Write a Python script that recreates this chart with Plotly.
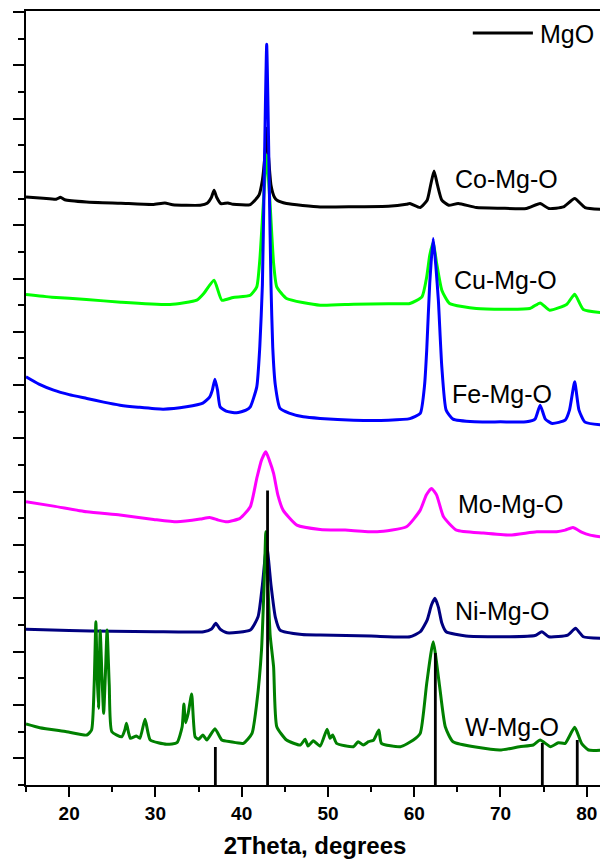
import plotly.graph_objects as go

# ---------------- data (2Theta in degrees, intensity in a.u. incl. stacking offset) -------------
co_x = [15.0, 17.0, 18.5, 19.0, 19.5, 22.0, 26.0, 29.7, 31.1, 32.0, 35.2, 36.0, 36.5, 36.8, 37.1, 37.6,
        38.4, 39.0, 41.0, 42.0, 42.4, 42.7, 42.9, 43.1, 43.4, 43.8, 44.1, 45.2, 49.1, 53.0, 57.0, 59.1,
        59.5, 60.7, 61.5, 61.9, 62.3, 62.7, 63.2, 64.0, 65.1, 67.2, 70.0, 73.0, 74.6, 75.6, 77.3, 78.6,
        79.8, 82.0]
co_y = [588.3, 587.0, 586.0, 588.0, 585.5, 583.3, 582.0, 580.7, 582.3, 580.5, 580.0, 582.0, 588.0, 595.0,
        588.0, 581.5, 582.3, 581.0, 580.7, 590.0, 605.0, 630.0, 657.0, 630.0, 600.0, 588.0, 585.0, 581.7,
        578.3, 578.5, 579.0, 581.0, 581.7, 577.7, 585.0, 600.0, 614.3, 600.0, 585.0, 580.0, 581.7, 577.7,
        577.0, 576.7, 581.7, 576.7, 578.3, 586.7, 577.7, 575.7]

cu_x = [15.0, 18.0, 22.0, 26.0, 31.7, 34.8, 35.6, 36.8, 37.7, 39.0, 41.0, 41.75, 42.1, 42.5, 42.9, 43.3,
        43.7, 44.07, 45.2, 49.1, 53.0, 57.0, 59.5, 60.9, 61.45, 61.8, 62.2, 62.6, 63.2, 64.1, 67.2, 73.4,
        74.6, 75.7, 77.7, 78.6, 79.6, 82.0]
cu_y = [490.7, 488.0, 485.7, 483.0, 480.7, 485.0, 491.7, 505.0, 485.0, 487.7, 490.0, 498.3, 525.0, 580.0,
        630.0, 580.0, 522.0, 498.3, 486.7, 480.0, 481.0, 481.5, 481.7, 488.3, 508.3, 530.0, 543.0, 522.0,
        495.0, 481.7, 476.7, 476.7, 482.3, 475.0, 481.0, 491.0, 475.7, 472.3]

fe_x = [15.0, 16.5, 18.2, 20.0, 22.05, 24.0, 25.9, 28.0, 30.9, 33.6, 35.5, 36.3, 36.6, 36.9, 37.2, 37.5,
        38.2, 39.4, 40.5, 41.0, 41.75, 42.1, 42.4, 42.6, 42.75, 42.9, 43.05, 43.2, 43.4, 43.6, 43.9,
        44.45, 45.5, 47.15, 49.1, 53.0, 57.0, 59.5, 60.7, 61.2, 61.45, 61.8, 62.2, 62.5, 62.8, 63.2,
        63.7, 64.5, 67.0, 70.0, 73.0, 74.0, 74.6, 75.2, 76.0, 77.5, 78.0, 78.6, 79.1, 79.8, 82.0]
fe_y = [408.3, 401.0, 395.0, 390.5, 386.7, 383.0, 380.0, 378.0, 376.0, 378.3, 382.0, 388.3, 395.0, 406.0,
        395.0, 378.3, 374.0, 372.3, 375.0, 378.3, 398.3, 438.3, 500.0, 600.0, 680.0, 741.0, 680.0, 600.0,
        500.0, 438.0, 400.0, 376.7, 372.0, 368.3, 366.7, 365.0, 365.0, 366.5, 371.7, 400.0, 435.0, 502.0,
        546.7, 520.0, 485.0, 418.3, 375.0, 366.0, 363.3, 363.3, 363.3, 366.0, 380.0, 366.0, 361.7, 365.0,
        375.0, 403.3, 375.0, 363.0, 360.0]

mo_x = [15.0, 18.2, 22.05, 25.9, 29.8, 32.5, 35.2, 36.3, 37.3, 38.3, 39.8, 41.0, 41.75, 42.3, 42.8, 43.2,
        43.7, 44.2, 44.8, 46.4, 49.1, 52.0, 55.7, 59.1, 60.7, 61.4, 62.0, 62.6, 63.4, 64.9, 68.0, 71.1,
        74.2, 76.5, 77.5, 78.4, 79.4, 80.4, 82.0]
mo_y = [283.3, 279.0, 273.3, 270.0, 265.7, 263.3, 266.0, 267.7, 265.0, 263.3, 266.7, 278.3, 306.7, 325.0,
        333.3, 325.0, 311.7, 290.0, 275.0, 260.0, 255.7, 255.0, 253.3, 258.3, 275.0, 290.0, 296.7, 290.0,
        268.3, 255.0, 252.0, 250.0, 253.3, 253.3, 255.0, 257.7, 253.0, 250.0, 247.7]

ni_x = [15.0, 20.0, 25.0, 30.0, 35.6, 36.5, 37.0, 37.5, 38.3, 41.0, 41.9, 42.4, 42.9, 43.4, 43.9, 44.45,
        47.0, 49.1, 55.0, 59.5, 60.7, 61.5, 62.0, 62.4, 62.8, 63.2, 63.7, 66.0, 71.1, 74.0, 74.8, 75.6,
        77.8, 78.7, 79.6, 82.0]
ni_y = [155.7, 154.5, 153.8, 153.3, 153.3, 156.0, 161.7, 156.0, 152.3, 155.0, 168.3, 200.0, 240.0, 200.0,
        168.0, 155.0, 150.5, 150.0, 149.0, 148.3, 153.3, 165.0, 180.0, 186.7, 178.0, 162.0, 153.3, 149.0,
        148.3, 149.5, 153.3, 148.3, 150.0, 156.7, 148.3, 146.7]

w_x = [15.0, 16.6, 19.7, 22.05, 22.6, 22.9, 23.1, 23.25, 23.4, 23.6, 23.8, 24.0, 24.2, 24.4, 24.65, 24.95,
       26.1, 26.45, 26.65, 26.9, 27.1, 27.8, 28.2, 28.8, 29.4, 31.3, 32.5, 33.1, 33.3, 33.5, 33.8, 34.2,
       34.6, 35.0, 35.5, 35.96, 36.9, 37.7, 38.7, 40.2, 41.2, 41.75, 42.3, 42.6, 42.8, 43.0, 43.3, 43.7,
       44.07, 45.2, 46.8, 47.35, 47.7, 48.3, 49.1, 49.9, 50.25, 50.55, 51.0, 52.95, 53.5, 54.1, 54.7,
       55.3, 55.9, 56.2, 58.4, 59.9, 60.7, 61.45, 62.2, 62.9, 63.6, 64.5, 69.9, 72.2, 73.8, 74.6, 75.8,
       76.7, 77.5, 78.6, 79.4, 80.2, 82.0]
w_y = [61.0, 57.3, 53.3, 50.0, 55.0, 100.0, 163.3, 110.0, 76.7, 154.3, 110.0, 71.7, 110.0, 155.0, 100.0,
       53.3, 48.3, 55.0, 61.7, 52.0, 46.7, 49.0, 46.7, 65.7, 45.0, 40.7, 42.3, 58.3, 81.0, 62.3, 71.7,
       91.0, 48.3, 45.7, 50.0, 45.0, 56.3, 45.0, 43.3, 41.7, 51.7, 82.0, 135.0, 200.0, 253.3, 210.0,
       150.0, 118.3, 58.3, 45.0, 40.0, 45.7, 39.0, 44.3, 39.0, 55.7, 46.7, 50.0, 41.7, 38.3, 43.3, 40.0,
       43.3, 45.0, 55.0, 41.7, 38.3, 45.0, 51.7, 101.7, 143.3, 101.7, 58.3, 43.3, 35.0, 38.3, 40.0, 45.0,
       38.3, 42.3, 41.7, 57.7, 41.7, 35.0, 35.0]

mgo_pos = [36.95, 43.0, 62.45, 74.85, 78.9]
mgo_int = [38.0, 294.5, 132.0, 42.0, 45.0]

series_names = ["Co-Mg-O", "Cu-Mg-O", "Fe-Mg-O", "Mo-Mg-O", "Ni-Mg-O", "W-Mg-O"]
series_x = [co_x, cu_x, fe_x, mo_x, ni_x, w_x]
series_y = [co_y, cu_y, fe_y, mo_y, ni_y, w_y]
series_colors = ["#000000", "#00FF00", "#0000FF", "#FF00FF", "#000080", "#008000"]
label_x = [64.5, 64.35, 64.15, 64.8, 64.5, 65.7]
label_y = [606, 505, 391, 281, 174, 58]

FONT = "Liberation Sans, Arial, sans-serif"

fig = go.Figure()
for name, xs, ys, col in zip(series_names, series_x, series_y, series_colors):
    fig.add_trace(go.Scatter(x=xs, y=ys, mode="lines", name=name,
                             line=dict(color=col, width=3, shape="spline", smoothing=0.5),
                             showlegend=False))

# MgO reference sticks
sx, sy = [], []
for p, h in zip(mgo_pos, mgo_int):
    sx += [p, p, None]
    sy += [0, h, None]
fig.add_trace(go.Scatter(x=sx, y=sy, mode="lines", name="MgO",
                         line=dict(color="black", width=2.8), showlegend=False))

for name, lx, ly in zip(series_names, label_x, label_y):
    fig.add_annotation(x=lx, y=ly, text=name, showarrow=False, xanchor="left", yanchor="middle",
                       font=dict(family=FONT, size=25, color="black"))

# legend (MgO)
fig.add_shape(type="line", xref="paper", yref="paper", x0=0.773, x1=0.877, y0=0.9716, y1=0.9716,
              line=dict(color="black", width=2.8))
fig.add_annotation(xref="paper", yref="paper", x=0.886, y=0.9708, text="MgO", showarrow=False,
                   xanchor="left", yanchor="middle", font=dict(family=FONT, size=25, color="black"))

# the page body adds an 8px offset, so the figure is sized to end at the window edges
fig.update_layout(
    width=600, height=851, autosize=False,
    margin=dict(l=18, r=4, t=3, b=74),
    paper_bgcolor="white", plot_bgcolor="white",
    font=dict(family=FONT, color="black"),
)
fig.update_xaxes(
    range=[15, 82], showgrid=False, zeroline=False, automargin=False,
    showline=True, linewidth=2, linecolor="black", mirror=True,
    ticks="outside", ticklen=10, tickwidth=2, tickcolor="black",
    tick0=0, dtick=10,
    minor=dict(ticks="outside", ticklen=5, tickwidth=2, tickcolor="black", dtick=5, tick0=0),
    tickfont=dict(family=FONT, size=19, color="black", weight="bold"),
    title=dict(text="2Theta, degrees", font=dict(family=FONT, size=24, color="black", weight="bold"),
               standoff=14),
)
fig.update_yaxes(
    range=[0, 774.3], showgrid=False, zeroline=False, showticklabels=False, automargin=False,
    showline=True, linewidth=2, linecolor="black", mirror=True,
    ticks="outside", ticklen=11, tickwidth=2, tickcolor="black",
    tick0=26.667, dtick=53.333,
    minor=dict(ticks="outside", ticklen=6, tickwidth=2, tickcolor="black", dtick=26.667, tick0=0),
)

fig.write_html("out.html")
